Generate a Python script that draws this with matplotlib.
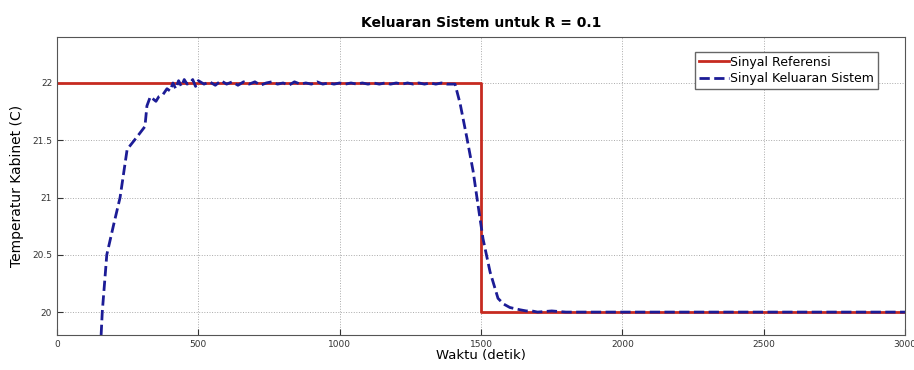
import numpy as np
import matplotlib
matplotlib.use('Agg')
import matplotlib.pyplot as plt

# reference signal (step down at t = 1500)
ref_t = [0, 1500, 1500, 3000]
ref_y = [22, 22, 20, 20]

# system output
out_t = [156, 160, 176, 200, 223, 248, 280, 311, 318, 330, 340, 350, 360, 375, 389,
         400, 410, 420, 430, 440, 450, 460, 470, 480, 490, 500, 520, 540, 560, 580,
         600, 620, 640, 660, 680, 700, 720, 740, 760, 780, 800, 820, 840, 860, 880,
         900, 920, 940, 960, 980, 1000, 1020, 1040, 1060, 1080, 1100, 1120, 1140,
         1160, 1180, 1200, 1220, 1240, 1260, 1280, 1300, 1320, 1340, 1360, 1380,
         1408, 1426, 1450, 1472, 1489, 1507, 1532, 1560, 1580, 1602, 1620, 1638,
         1660, 1680, 1700, 1750, 1800, 1850, 1900, 1950, 2000, 2100, 2200, 2300,
         2400, 2500, 2600, 2700, 2800, 2900, 3000]
out_y = [19.8, 20.0, 20.5, 20.76, 21.0, 21.42, 21.52, 21.62, 21.8, 21.88, 21.86, 21.84,
         21.88, 21.9, 21.95, 21.93, 22.0, 21.95, 22.02, 21.97, 22.03, 21.99, 22.0,
         22.03, 21.97, 22.02, 21.99, 22.01, 21.98, 22.02, 21.99, 22.01, 21.98, 22.01,
         21.99, 22.01, 21.98, 22.0, 22.01, 21.99, 22.0, 21.98, 22.01, 21.99, 22.0,
         21.99, 22.01, 21.99, 22.0, 21.99, 22.0, 21.99, 22.0, 21.99, 22.0, 21.99,
         22.0, 21.99, 22.0, 21.99, 22.0, 21.99, 22.0, 21.99, 22.0, 21.99, 22.0, 21.99,
         22.0, 21.99,
         21.99, 21.82, 21.52, 21.23, 20.94, 20.64, 20.35, 20.12, 20.07, 20.04, 20.03,
         20.02, 20.01, 20.01, 20.0, 20.01, 20.0, 20.0, 20.0, 20.0, 20.0, 20.0, 20.0,
         20.0, 20.0, 20.0, 20.0, 20.0, 20.0, 20.0, 20.0]

xticks = [0, 500, 1000, 1500, 2000, 2500, 3000]
yticks = [20, 20.5, 21, 21.5, 22]

fig = plt.figure(figsize=(9.14, 3.7), dpi=100)
ax = fig.add_axes([0.0624, 0.0946, 0.9278, 0.805])

ax.plot(ref_t, ref_y, color='#c62a20', linewidth=2, label='Sinyal Referensi')
ax.plot(out_t, out_y, '--', color='#1c1c96', linewidth=2, label='Sinyal Keluaran Sistem')

ax.set_xlim(0, 3000)
ax.set_ylim(19.8, 22.4)
ax.set_xticks(xticks)
ax.set_xticklabels([str(v) for v in xticks])
ax.set_yticks(yticks)
ax.set_yticklabels(['20', '20.5', '21', '21.5', '22'])
ax.tick_params(direction='in', labelsize=6.5, colors='#333333', length=4)
ax.grid(True, linestyle=':', color='#aaaaaa', linewidth=0.7)
for s in ax.spines.values():
    s.set_color('#555555')

ax.set_title('Keluaran Sistem untuk R = 0.1', fontsize=10, fontweight='bold', pad=7)
ax.set_xlabel('Waktu (detik)', fontsize=9.5, labelpad=0)
ax.set_ylabel('Temperatur Kabinet (C)', fontsize=10, labelpad=6)

leg = ax.legend(loc='upper right', fontsize=9, fancybox=False, framealpha=1,
                edgecolor='#666666', handlelength=2.4, borderpad=0.3,
                labelspacing=0.25, handletextpad=0.1, borderaxespad=0,
                bbox_to_anchor=(0.968, 0.95))

fig.savefig('out.png', dpi=100)
